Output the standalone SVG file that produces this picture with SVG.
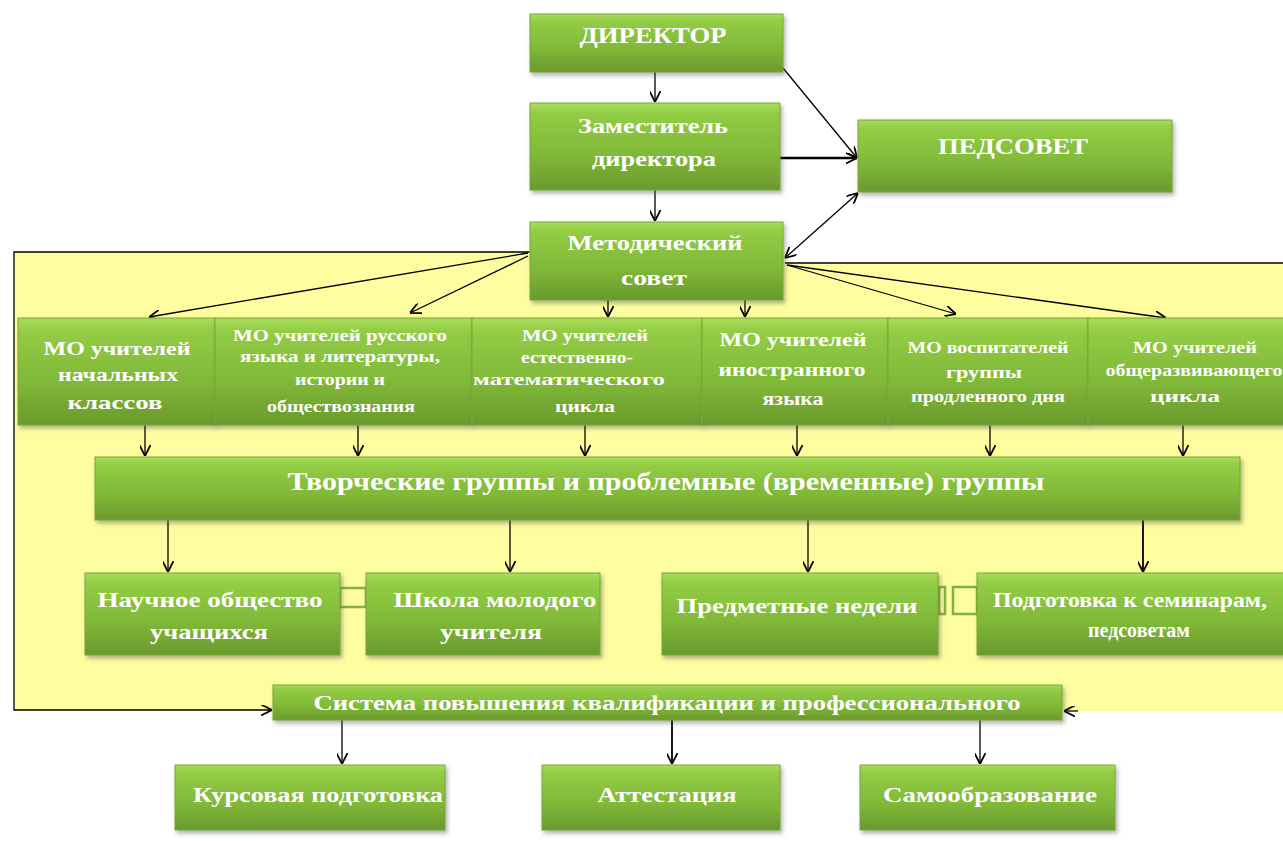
<svg xmlns="http://www.w3.org/2000/svg" width="1283" height="841" viewBox="0 0 1283 841">
<defs>
<linearGradient id="g" x1="0" y1="0" x2="0" y2="1">
<stop offset="0" stop-color="#a9dd5a"/>
<stop offset="0.12" stop-color="#93cc45"/>
<stop offset="0.6" stop-color="#80b838"/>
<stop offset="1" stop-color="#6a992c"/>
</linearGradient>
<filter id="sh" x="-10%" y="-20%" width="120%" height="150%">
<feDropShadow dx="2" dy="3" stdDeviation="2" flood-color="#555" flood-opacity="0.45"/>
</filter>
<marker id="ah" viewBox="0 0 10 10" refX="10" refY="5" markerWidth="11" markerHeight="11" markerUnits="userSpaceOnUse" orient="auto-start-reverse">
<path d="M0,0 L10,5 L0,10" fill="none" stroke="#000" stroke-width="1.6"/>
</marker>
<style>
.box{fill:url(#g);stroke:#78a835;stroke-width:1;filter:url(#sh)}
.t{fill:#fff;font-family:"Liberation Serif","Times New Roman",serif;font-weight:bold;text-anchor:middle}
.c{fill:none;stroke:#000;stroke-width:1.3}
.ca{fill:none;stroke:#000;stroke-width:1.3;marker-end:url(#ah)}
.lnk{fill:#fefea0;stroke:#7fb43a;stroke-width:2.5}
</style>
</defs>
<rect x="0" y="0" width="1283" height="841" fill="#fff"/>
<polygon points="14,252 785,252 785,263 1283,263 1283,711 14,711" fill="#fefea0"/>

<g id="connectors">
<polyline class="ca" points="530,252 14,252 14,710 272,710"/>
<line class="c" x1="785" y1="263" x2="1283" y2="263"/>
<line class="ca" x1="1078" y1="711" x2="1064" y2="711"/>
<line class="ca" x1="655" y1="72" x2="655" y2="102"/>
<line class="ca" x1="655" y1="190" x2="655" y2="221"/>
<line class="ca" x1="783" y1="68" x2="857" y2="158"/>
<line class="ca" x1="780" y1="158" x2="857" y2="158" style="stroke-width:2.4"/>
<line class="ca" x1="785" y1="258" x2="858" y2="193" style="marker-start:url(#ah)"/>
<line class="ca" x1="528" y1="253" x2="149" y2="317"/>
<line class="ca" x1="528" y1="256" x2="410" y2="313"/>
<line class="ca" x1="608" y1="300" x2="608" y2="317"/>
<line class="ca" x1="745" y1="300" x2="745" y2="317"/>
<line class="ca" x1="787" y1="265" x2="956" y2="314"/>
<line class="ca" x1="787" y1="265" x2="1166" y2="318"/>
<line class="ca" x1="145" y1="425" x2="145" y2="456"/>
<line class="ca" x1="358" y1="425" x2="358" y2="456"/>
<line class="ca" x1="585" y1="425" x2="585" y2="456"/>
<line class="ca" x1="797" y1="425" x2="797" y2="456"/>
<line class="ca" x1="990" y1="425" x2="990" y2="456"/>
<line class="ca" x1="1183" y1="425" x2="1183" y2="456"/>
<line class="ca" x1="168" y1="520" x2="168" y2="572"/>
<line class="ca" x1="510" y1="520" x2="510" y2="572"/>
<line class="ca" x1="808" y1="520" x2="808" y2="572"/>
<line class="ca" x1="1143" y1="520" x2="1143" y2="572" style="stroke-width:1.8"/>
<line class="ca" x1="342" y1="720" x2="342" y2="764"/>
<line class="ca" x1="672" y1="720" x2="672" y2="764" style="stroke-width:1.8"/>
<line class="ca" x1="980" y1="720" x2="980" y2="764"/>
</g>

<g id="links">
<rect class="lnk" x="340" y="588" width="26" height="19"/>
<rect class="lnk" x="939" y="587" width="6" height="27"/>
<rect class="lnk" x="953" y="587" width="24" height="27"/>
</g>

<g id="director"><rect class="box" x="530" y="14" width="253" height="58"/>
<text class="t" x="653" y="43" font-size="24" textLength="147" lengthAdjust="spacingAndGlyphs">ДИРЕКТОР</text></g>

<g id="deputy"><rect class="box" x="530" y="103" width="250" height="87"/>
<text class="t" x="653" y="133" font-size="22" textLength="150" lengthAdjust="spacingAndGlyphs">Заместитель</text>
<text class="t" x="654" y="166" font-size="22" textLength="124" lengthAdjust="spacingAndGlyphs">директора</text></g>

<g id="pedsovet"><rect class="box" x="858" y="120" width="314" height="72"/>
<text class="t" x="1013" y="154" font-size="24" textLength="150" lengthAdjust="spacingAndGlyphs">ПЕДСОВЕТ</text></g>

<g id="metodsovet"><rect class="box" x="530" y="222" width="253" height="78"/>
<text class="t" x="655" y="250" font-size="22" textLength="175" lengthAdjust="spacingAndGlyphs">Методический</text>
<text class="t" x="654" y="285" font-size="22" textLength="66" lengthAdjust="spacingAndGlyphs">совет</text></g>

<g id="mo1"><rect class="box" x="18" y="318" width="197" height="107"/>
<text class="t" x="117" y="355" font-size="19" textLength="147" lengthAdjust="spacingAndGlyphs">МО учителей</text>
<text class="t" x="118" y="381" font-size="19" textLength="120" lengthAdjust="spacingAndGlyphs">начальных</text>
<text class="t" x="115" y="409" font-size="19" textLength="95" lengthAdjust="spacingAndGlyphs">классов</text></g>

<g id="mo2"><rect class="box" x="215" y="318" width="257" height="107"/>
<text class="t" x="340" y="341" font-size="16" textLength="214" lengthAdjust="spacingAndGlyphs">МО учителей русского</text>
<text class="t" x="340" y="362" font-size="16" textLength="200" lengthAdjust="spacingAndGlyphs">языка и литературы,</text>
<text class="t" x="340" y="385" font-size="16" textLength="90" lengthAdjust="spacingAndGlyphs">истории и</text>
<text class="t" x="341" y="412" font-size="16" textLength="148" lengthAdjust="spacingAndGlyphs">обществознания</text></g>

<g id="mo3"><rect class="box" x="472" y="318" width="230" height="107"/>
<text class="t" x="585" y="341" font-size="16" textLength="126" lengthAdjust="spacingAndGlyphs">МО учителей</text>
<text class="t" x="577" y="363" font-size="16" textLength="112" lengthAdjust="spacingAndGlyphs">естественно-</text>
<text class="t" x="569" y="385" font-size="16" textLength="192" lengthAdjust="spacingAndGlyphs">математического</text>
<text class="t" x="585" y="412" font-size="16" textLength="60" lengthAdjust="spacingAndGlyphs">цикла</text></g>

<g id="mo4"><rect class="box" x="702" y="318" width="186" height="107"/>
<text class="t" x="793" y="346" font-size="18" textLength="147" lengthAdjust="spacingAndGlyphs">МО учителей</text>
<text class="t" x="792" y="376" font-size="18" textLength="147" lengthAdjust="spacingAndGlyphs">иностранного</text>
<text class="t" x="793" y="405" font-size="18" textLength="61" lengthAdjust="spacingAndGlyphs">языка</text></g>

<g id="mo5"><rect class="box" x="888" y="318" width="200" height="107"/>
<text class="t" x="988" y="353" font-size="16" textLength="161" lengthAdjust="spacingAndGlyphs">МО воспитателей</text>
<text class="t" x="984" y="378" font-size="16" textLength="76" lengthAdjust="spacingAndGlyphs">группы</text>
<text class="t" x="988" y="402" font-size="16" textLength="154" lengthAdjust="spacingAndGlyphs">продленного дня</text></g>

<g id="mo6"><rect class="box" x="1088" y="318" width="200" height="107"/>
<text class="t" x="1195" y="353" font-size="16" textLength="124" lengthAdjust="spacingAndGlyphs">МО учителей</text>
<text class="t" x="1194" y="376" font-size="16" textLength="177" lengthAdjust="spacingAndGlyphs">общеразвивающего</text>
<text class="t" x="1185" y="402" font-size="16" textLength="70" lengthAdjust="spacingAndGlyphs">цикла</text></g>

<g id="tvorch"><rect class="box" x="95" y="457" width="1145" height="63"/>
<text class="t" x="666" y="490" font-size="26" textLength="757" lengthAdjust="spacingAndGlyphs">Творческие группы и проблемные (временные) группы</text></g>

<g id="nauch"><rect class="box" x="85" y="573" width="255" height="82"/>
<text class="t" x="210" y="607" font-size="21" textLength="225" lengthAdjust="spacingAndGlyphs">Научное общество</text>
<text class="t" x="209" y="639" font-size="21" textLength="118" lengthAdjust="spacingAndGlyphs">учащихся</text></g>

<g id="shkola"><rect class="box" x="366" y="573" width="234" height="82"/>
<text class="t" x="495" y="607" font-size="21" textLength="203" lengthAdjust="spacingAndGlyphs">Школа молодого</text>
<text class="t" x="491" y="639" font-size="21" textLength="102" lengthAdjust="spacingAndGlyphs">учителя</text></g>

<g id="predmet"><rect class="box" x="662" y="573" width="276" height="82"/>
<text class="t" x="797" y="613" font-size="21" textLength="241" lengthAdjust="spacingAndGlyphs">Предметные недели</text></g>

<g id="podgot"><rect class="box" x="977" y="573" width="310" height="82"/>
<text class="t" x="1130" y="607" font-size="20" textLength="274" lengthAdjust="spacingAndGlyphs">Подготовка к семинарам,</text>
<text class="t" x="1139" y="637" font-size="20" textLength="102" lengthAdjust="spacingAndGlyphs">педсоветам</text></g>

<g id="sistema"><rect class="box" x="273" y="685" width="789" height="35"/>
<text class="t" x="667" y="710" font-size="21" textLength="707" lengthAdjust="spacingAndGlyphs">Система повышения квалификации и профессионального</text></g>

<g id="kurs"><rect class="box" x="175" y="765" width="270" height="65"/>
<text class="t" x="318" y="802" font-size="21" textLength="250" lengthAdjust="spacingAndGlyphs">Курсовая подготовка</text></g>

<g id="attest"><rect class="box" x="542" y="765" width="238" height="65"/>
<text class="t" x="667" y="802" font-size="21" textLength="139" lengthAdjust="spacingAndGlyphs">Аттестация</text></g>

<g id="samoobr"><rect class="box" x="860" y="765" width="255" height="65"/>
<text class="t" x="990" y="802" font-size="21" textLength="214" lengthAdjust="spacingAndGlyphs">Самообразование</text></g>
</svg>
